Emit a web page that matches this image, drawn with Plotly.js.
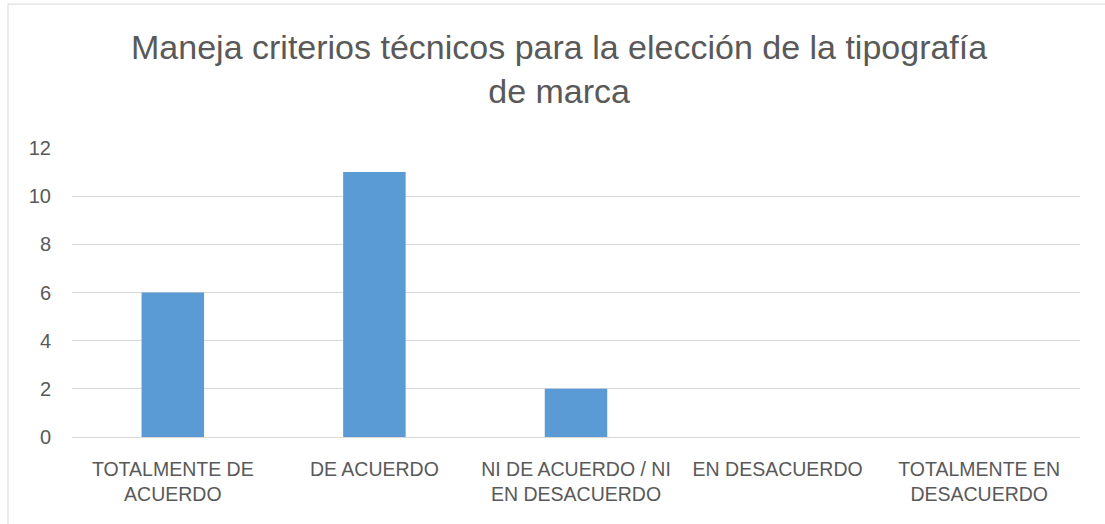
<!DOCTYPE html>
<html>
<head>
<meta charset="utf-8">
<script src="https://cdn.plot.ly/plotly-3.0.1.min.js"></script>
<style>html,body{margin:0;padding:0;background:#fff;}#chart{width:1105px;height:524px;}</style>
</head>
<body>
<div id="chart"></div>
<script>
var categories = ["TOTALMENTE DE<br>ACUERDO", "DE ACUERDO", "NI DE ACUERDO / NI<br>EN DESACUERDO", "EN DESACUERDO", "TOTALMENTE EN<br>DESACUERDO"];
var values = [6, 11, 2, 0, 0];
var yTicks = [0, 2, 4, 6, 8, 10, 12];
var titleText = "Maneja criterios técnicos para la elección de la tipografía<br>de marca";

var fontFam = "Liberation Sans, Arial, sans-serif";
var trace = {
  type: "bar",
  x: categories,
  y: values,
  marker: {color: "#5B9BD5"},
  width: 0.31,
  hoverinfo: "none"
};
var layout = {
  width: 1105, height: 524,
  margin: {l: 72, r: 25, t: 148, b: 87},
  paper_bgcolor: "#fff", plot_bgcolor: "#fff",
  showlegend: false,
  title: {text: titleText, font: {family: fontFam, size: 34, color: "#595959"}, x: 0.506, xanchor: "center", y: 1 - 59/524, yanchor: "top"},
  xaxis: {tickfont: {family: fontFam, size: 19.5, color: "#595959"}, showgrid: false, zeroline: false, showline: false, ticks: "", ticklabelstandoff: 18},
  yaxis: {range: [0, 12], tickvals: yTicks, ticktext: yTicks.map(String), tickfont: {family: fontFam, size: 20, color: "#595959"}, gridcolor: "#d9d9d9", gridwidth: 1, zeroline: true, zerolinecolor: "#d9d9d9", zerolinewidth: 1, showline: false, ticks: "", ticklabelstandoff: 20},
  shapes: [
    {type: "line", xref: "paper", yref: "paper", x0: -0.0635, x1: -0.0635, y0: 1.5, y1: -0.4, line: {color: "#d9d9d9", width: 1}},
    {type: "line", xref: "paper", yref: "paper", x0: -0.0635, x1: 1.1, y0: 1.498, y1: 1.498, line: {color: "#d9d9d9", width: 1}}
  ]
};
Plotly.newPlot("chart", [trace], layout, {displayModeBar: false, staticPlot: true});
</script>
</body>
</html>
